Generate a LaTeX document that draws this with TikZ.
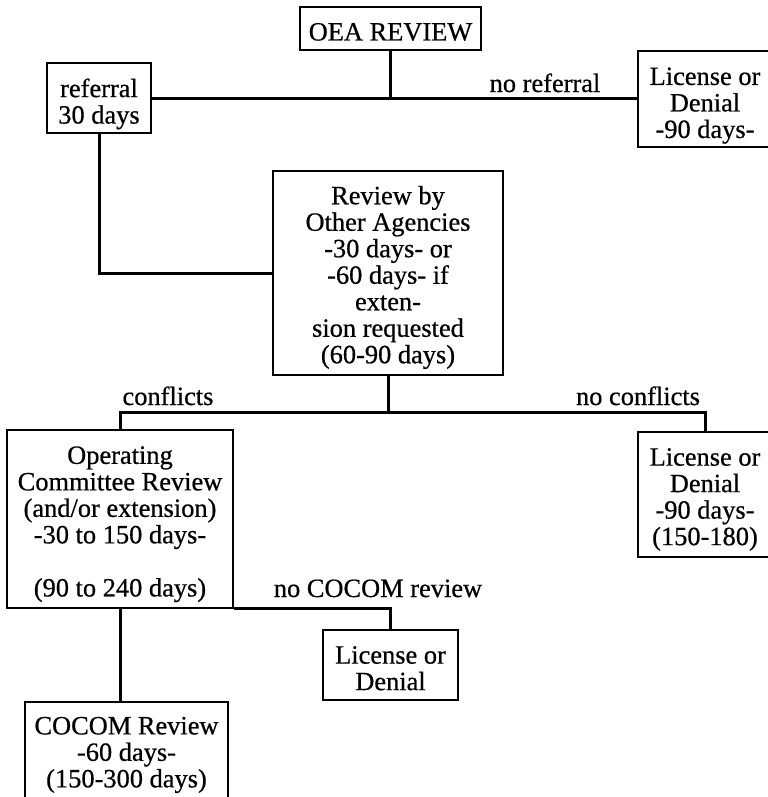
\documentclass[tikz,border=0pt]{standalone}
\usepackage{fontspec}
\setmainfont{Liberation Serif}[FakeBold=0.6]
\newcommand\tstr[1]{\rule{0pt}{#1bp}}
\begin{document}
\begin{tikzpicture}[x=1bp,y=-1bp,
  box/.style={draw, line width=1.9bp, inner sep=0pt, align=center,
    font=\fontsize{26.5}{26.6}\selectfont},
  conn/.style={line width=3bp},
  lab/.style={anchor=base, inner sep=0pt, font=\fontsize{26.5}{26.6}\selectfont}]
\useasboundingbox (0,0) rectangle (768,797);

\node[box, minimum width=181bp, minimum height=43bp] (oea) at (390.5,28.5) {\tstr{24.4}OEA REVIEW};
\node[box, minimum width=104bp, minimum height=70bp] (ref) at (99,98) {\tstr{30.4}referral\\30 days};
\node[box, minimum width=134bp, minimum height=96bp] (toplic) at (705,99) {\tstr{30.6}License or\\Denial\\-90 days-};
\node[box, minimum width=230bp, minimum height=204bp] (review) at (388,273)
  {\tstr{27.2}Review by\\Other Agencies\\-30 days- or\\-60 days- if\\exten-\\sion requested\\(60-90 days)};
\node[box, minimum width=226bp, minimum height=178bp] (op) at (120,519)
  {\tstr{28}Operating\\Committee Review\\(and/or extension)\\-30 to 150 days-\\[26.6bp](90 to 240 days)};
\node[box, minimum width=134bp, minimum height=125bp] (rlic) at (705,494.5)
  {\tstr{27.4}License or\\Denial\\-90 days-\\(150-180)};
\node[box, minimum width=135bp, minimum height=70bp] (mlic) at (390.5,665) {\tstr{24}License or\\Denial};
\node[box, minimum width=203bp, minimum height=96bp] (cocom) at (126.5,750)
  {\tstr{27.4}COCOM Review\\-60 days-\\(150-300 days)};

\node[lab] (lnoref) at (545,92) {no referral};
\node[lab] (lconf) at (168,405) {conflicts};
\node[lab] (lnoconf) at (638,405) {no conflicts};
\node[lab] (lnococom) at (378,597) {no COCOM review};

\coordinate (j1) at (oea.south |- ref.east);
\coordinate (j2) at (review.south |- 0,412);
\draw[conn] (oea.south) -- (j1);
\draw[conn] (ref.east) -- (ref.east -| toplic.west);
\draw[conn] (ref.south) |- (review.west);
\draw[conn] (review.south) -- (j2);
\draw[conn] (op.north) -- (op.north |- j2) -- (rlic.north |- j2) -- (rlic.north);
\draw[conn] (op.south east) -| (mlic.north);
\draw[conn] (op.south) -- (op.south |- cocom.north);
\end{tikzpicture}
\end{document}
